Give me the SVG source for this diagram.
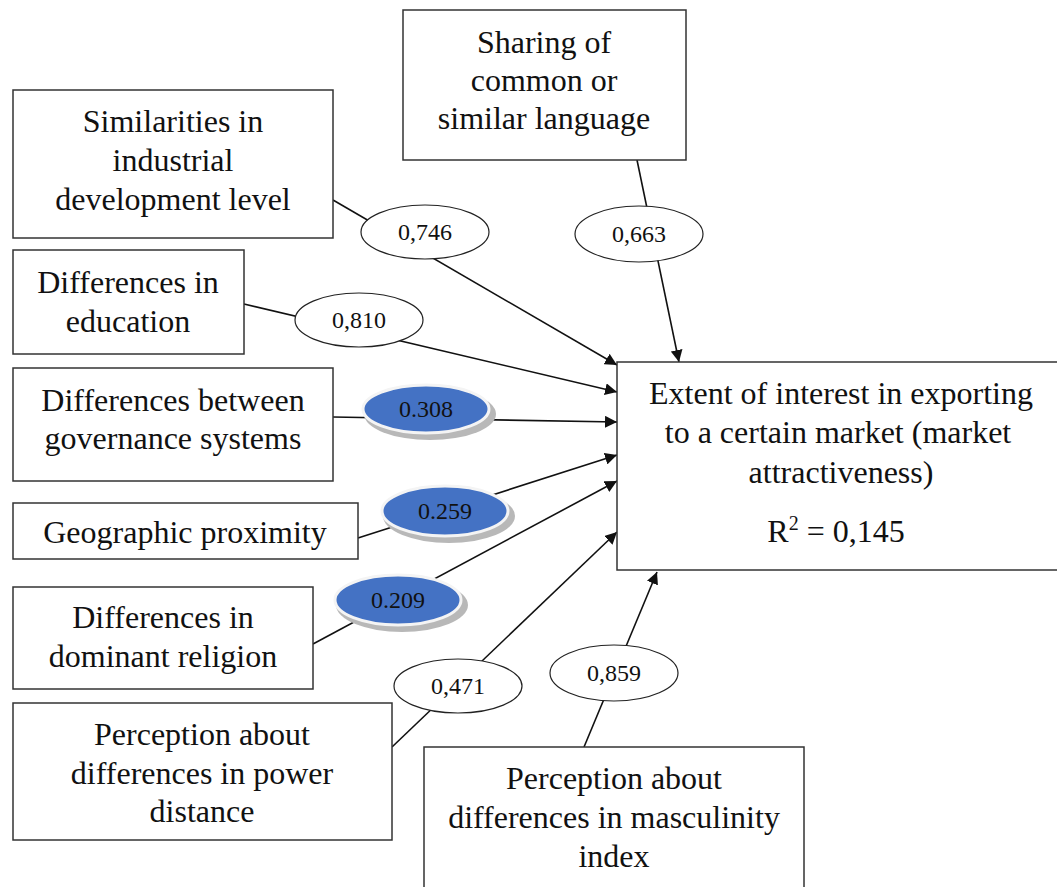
<svg xmlns="http://www.w3.org/2000/svg" width="1057" height="887" viewBox="0 0 1057 887">
<style>
.box{fill:#fff;stroke:#333;stroke-width:1.5}
.t{font-family:"Liberation Serif","Times New Roman",serif;font-size:32px;fill:#111;text-anchor:middle}
.lt{font-family:"Liberation Serif","Times New Roman",serif;font-size:24px;fill:#111;text-anchor:middle}
.ew{fill:#fff;stroke:#222;stroke-width:1.2}
.eb{fill:#4472c4;stroke:#f4f4f4;stroke-width:3}
.es{fill:#b8b8b8}
.c{stroke:#111;stroke-width:1.6;fill:none;marker-end:url(#ah)}
</style>
<defs>
<marker id="ah" viewBox="0 0 10 10" refX="10" refY="5" markerWidth="12" markerHeight="12" markerUnits="userSpaceOnUse" orient="auto"><path d="M0,0 L10,5 L0,10 z" fill="#111"/></marker>
</defs>
<rect width="1057" height="887" fill="#fff"/>
<g id="connectors">
<line class="c" x1="333" y1="200" x2="617" y2="365"/>
<line class="c" x1="637" y1="160" x2="679" y2="362"/>
<line class="c" x1="244" y1="304" x2="617" y2="392"/>
<line class="c" x1="333" y1="417" x2="617" y2="422"/>
<line class="c" x1="358" y1="538" x2="617" y2="455"/>
<line class="c" x1="313" y1="644" x2="617" y2="481"/>
<line class="c" x1="392" y1="747" x2="617" y2="532"/>
<line class="c" x1="584" y1="747" x2="657" y2="572"/>
</g>
<g id="n-language"><rect class="box" x="403" y="10" width="283" height="150"/><text class="t" x="544" y="53">Sharing of</text><text class="t" x="544" y="91">common or</text><text class="t" x="544" y="129">similar language</text></g>
<g id="n-industrial"><rect class="box" x="13" y="90" width="320" height="148"/><text class="t" x="173" y="132">Similarities in</text><text class="t" x="173" y="171">industrial</text><text class="t" x="173" y="210">development level</text></g>
<g id="n-education"><rect class="box" x="13" y="250" width="231" height="104"/><text class="t" x="128" y="293">Differences in</text><text class="t" x="128" y="332">education</text></g>
<g id="n-governance"><rect class="box" x="13" y="368" width="320" height="113"/><text class="t" x="173" y="411">Differences between</text><text class="t" x="173" y="449">governance systems</text></g>
<g id="n-geo"><rect class="box" x="13" y="503" width="345" height="56"/><text class="t" x="185" y="543">Geographic proximity</text></g>
<g id="n-religion"><rect class="box" x="13" y="587" width="300" height="102"/><text class="t" x="163" y="628">Differences in</text><text class="t" x="163" y="667">dominant religion</text></g>
<g id="n-power"><rect class="box" x="13" y="703" width="379" height="137"/><text class="t" x="202" y="745">Perception about</text><text class="t" x="202" y="784">differences in power</text><text class="t" x="202" y="822">distance</text></g>
<g id="n-masculinity"><rect class="box" x="424" y="747" width="380" height="145"/><text class="t" x="614" y="789">Perception about</text><text class="t" x="614" y="828">differences in masculinity</text><text class="t" x="614" y="867">index</text></g>
<g id="n-target"><rect class="box" x="617" y="362" width="445" height="208"/><text class="t" x="841" y="404">Extent of interest in exporting</text><text class="t" x="838" y="443">to a certain market (market</text><text class="t" x="841" y="483">attractiveness)</text><text class="t" x="836" y="542">R<tspan font-size="20" dy="-12">2</tspan><tspan dy="12"> = 0,145</tspan></text></g>
<g id="l-746"><ellipse class="ew" cx="425" cy="232" rx="64" ry="27"/><text class="lt" x="425" y="240">0,746</text></g>
<g id="l-663"><ellipse class="ew" cx="639" cy="234" rx="64" ry="28"/><text class="lt" x="639" y="242">0,663</text></g>
<g id="l-810"><ellipse class="ew" cx="359" cy="320" rx="64" ry="27"/><text class="lt" x="359" y="328">0,810</text></g>
<g id="l-308"><ellipse class="es" cx="430" cy="414" rx="66" ry="26"/><ellipse class="eb" cx="426" cy="409" rx="63" ry="24"/><text class="lt" x="426" y="417">0.308</text></g>
<g id="l-259"><ellipse class="es" cx="449" cy="516" rx="66" ry="27"/><ellipse class="eb" cx="445" cy="511" rx="63" ry="25"/><text class="lt" x="445" y="519">0.259</text></g>
<g id="l-209"><ellipse class="es" cx="402" cy="605" rx="66" ry="27"/><ellipse class="eb" cx="398" cy="600" rx="63" ry="25"/><text class="lt" x="398" y="608">0.209</text></g>
<g id="l-471"><ellipse class="ew" cx="458" cy="686" rx="64" ry="27"/><text class="lt" x="458" y="694">0,471</text></g>
<g id="l-859"><ellipse class="ew" cx="614" cy="673" rx="64" ry="28"/><text class="lt" x="614" y="681">0,859</text></g>
</svg>
